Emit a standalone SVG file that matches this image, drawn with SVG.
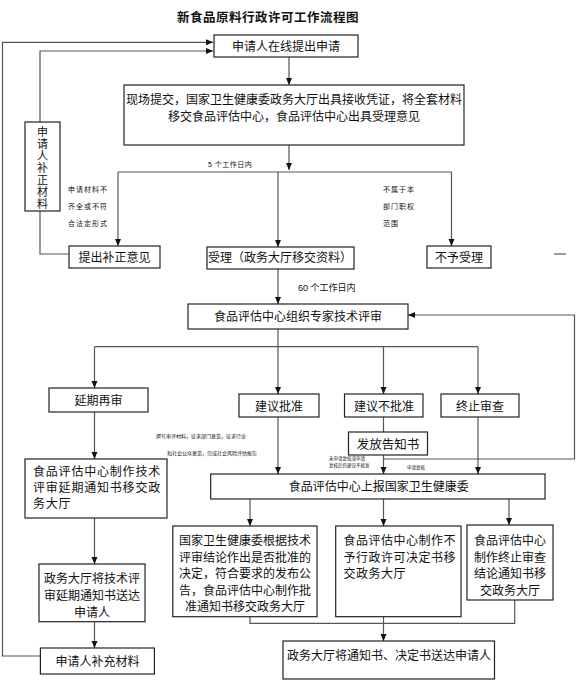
<svg xmlns="http://www.w3.org/2000/svg" width="576" height="682" viewBox="0 0 576 682">
<style>
text{font-family:"Liberation Sans","Noto Sans CJK SC",sans-serif;fill:#111}
.t{font-size:12px;text-anchor:middle}
.l{font-size:12px}
.v{font-size:11px;text-anchor:middle}
.s{font-size:7px;letter-spacing:1px}
.xs{font-size:5px}
.box{fill:#fff;stroke:#222;stroke-width:1.2}
.c{fill:none;stroke:#555;stroke-width:1.2}
</style>
<defs>
<marker id="a" markerUnits="userSpaceOnUse" markerWidth="7" markerHeight="7" refX="7" refY="3" orient="auto">
<path d="M0,0 L7,3 L0,6 z" fill="#111"/>
</marker>
</defs>
<rect width="576" height="682" fill="#fff"/>
<text x="268" y="22" style="font-size:12.5px;font-weight:bold;text-anchor:middle;letter-spacing:0.5px">新食品原料行政许可工作流程图</text>

<g id="connectors">
<polyline class="c" points="40.4,656 2.5,656 2.5,42.3 213,42.3" marker-end="url(#a)"/>
<polyline class="c" points="69,254 40,254 40,211"/>
<polyline class="c" points="40,122 40,51 213,51" marker-end="url(#a)"/>
<line class="c" x1="289" y1="57" x2="289" y2="85" marker-end="url(#a)"/>
<line class="c" x1="289" y1="145" x2="289" y2="170" marker-end="url(#a)"/>
<line class="c" x1="118" y1="172" x2="451.5" y2="172"/>
<line class="c" x1="118" y1="172" x2="118" y2="246" marker-end="url(#a)"/>
<line class="c" x1="278" y1="172" x2="278" y2="247" marker-end="url(#a)"/>
<line class="c" x1="451.5" y1="172" x2="451.5" y2="246" marker-end="url(#a)"/>
<line class="c" x1="554" y1="254" x2="566" y2="254"/>
<line class="c" x1="278" y1="269" x2="278" y2="304" marker-end="url(#a)"/>
<polyline class="c" points="383.5,459 574.5,459 574.5,315 408,315" marker-end="url(#a)"/>
<line class="c" x1="278" y1="329" x2="278" y2="346.7"/>
<line class="c" x1="94.5" y1="346.7" x2="478" y2="346.7"/>
<line class="c" x1="94.5" y1="346.7" x2="94.5" y2="388" marker-end="url(#a)"/>
<line class="c" x1="278" y1="346.7" x2="278" y2="394" marker-end="url(#a)"/>
<line class="c" x1="383.5" y1="346.7" x2="383.5" y2="394" marker-end="url(#a)"/>
<line class="c" x1="478" y1="346.7" x2="478" y2="394" marker-end="url(#a)"/>
<line class="c" x1="94.5" y1="412" x2="94.5" y2="459" marker-end="url(#a)"/>
<line class="c" x1="278" y1="417" x2="278" y2="474" marker-end="url(#a)"/>
<line class="c" x1="383.5" y1="417" x2="383.5" y2="432"/>
<line class="c" x1="383.5" y1="455" x2="383.5" y2="474" marker-end="url(#a)"/>
<line class="c" x1="478" y1="417" x2="478" y2="474" marker-end="url(#a)"/>
<line class="c" x1="250" y1="499" x2="250" y2="526" marker-end="url(#a)"/>
<line class="c" x1="383.5" y1="499" x2="383.5" y2="526" marker-end="url(#a)"/>
<line class="c" x1="509" y1="499" x2="509" y2="525" marker-end="url(#a)"/>
<polyline class="c" points="250,617 250,623.3 514.7,623.3 514.7,600"/>
<line class="c" x1="383.5" y1="602" x2="383.5" y2="641" marker-end="url(#a)"/>
<line class="c" x1="94.5" y1="518" x2="94.5" y2="564" marker-end="url(#a)"/>
<line class="c" x1="94.5" y1="621.7" x2="94.5" y2="648" marker-end="url(#a)"/>
</g>

<g id="labels">
<text class="s" x="208" y="167" style="letter-spacing:0.5px">5 个工作日内</text>
<text class="s" x="68" y="192">申请材料不</text>
<text class="s" x="68" y="209">齐全或不符</text>
<text class="s" x="68" y="226">合法定形式</text>
<text class="s" x="383" y="192">不属于本</text>
<text class="s" x="383" y="209">部门职权</text>
<text class="s" x="383" y="226">范围</text>
<text x="298" y="291" style="font-size:9px">60 个工作日内</text>
<text class="xs" x="156" y="437.5">撰写审评材料，征求部门意见，征求行业</text>
<text class="xs" x="167" y="454.5">和社会公众意见，完成社会风险评估报告</text>
<text class="xs" x="329" y="460" style="font-size:4.5px">未申请复核或申请</text>
<text class="xs" x="329" y="467" style="font-size:4.5px">复核后仍建议不批准</text>
<text class="xs" x="407" y="469" style="font-size:4.5px">申请复核</text>
</g>

<g id="n1"><rect class="box" x="214" y="35" width="144" height="22"/><text class="t" x="286" y="51">申请人在线提出申请</text></g>
<g id="n2"><rect class="box" x="124" y="85" width="340" height="60"/>
<text class="t" x="294" y="104">现场提交，国家卫生健康委政务大厅出具接收凭证，将全套材料</text>
<text class="t" x="294" y="121">移交食品评估中心，食品评估中心出具受理意见</text></g>
<g id="n3"><rect class="box" x="25" y="122" width="35" height="89"/>
<text class="v" x="42.5" y="136">申</text>
<text class="v" x="42.5" y="148">请</text>
<text class="v" x="42.5" y="160">人</text>
<text class="v" x="42.5" y="172">补</text>
<text class="v" x="42.5" y="184">正</text>
<text class="v" x="42.5" y="196">材</text>
<text class="v" x="42.5" y="208">料</text></g>
<g id="n4"><rect class="box" x="69" y="246" width="91" height="22"/><text class="t" x="114.5" y="261.5">提出补正意见</text></g>
<g id="n5"><rect class="box" x="207" y="247" width="147" height="22"/><text class="t" x="280" y="262">受理（政务大厅移交资料）</text></g>
<g id="n6"><rect class="box" x="427" y="246" width="64" height="22"/><text class="t" x="459" y="261.5">不予受理</text></g>
<g id="n7"><rect class="box" x="188" y="304" width="220" height="25"/><text class="t" x="298" y="321">食品评估中心组织专家技术评审</text></g>
<g id="n8"><rect class="box" x="49" y="388" width="99" height="24"/><text class="t" x="98.5" y="405">延期再审</text></g>
<g id="n9"><rect class="box" x="239" y="394" width="80" height="23"/><text class="t" x="279" y="410.5">建议批准</text></g>
<g id="n10"><rect class="box" x="344.5" y="394" width="78.5" height="23"/><text class="t" x="384" y="410.5">建议不批准</text></g>
<g id="n11"><rect class="box" x="441" y="394" width="78" height="23"/><text class="t" x="480" y="410.5">终止审查</text></g>
<g id="n12"><rect class="box" x="348.5" y="432" width="79" height="23"/><text class="t" x="388" y="448.5" style="font-size:12.5px">发放告知书</text></g>
<g id="n13"><rect class="box" x="25" y="459" width="142" height="59"/>
<text class="l" x="33" y="476" style="letter-spacing:0.8px">食品评估中心制作技术</text>
<text class="l" x="33" y="492" style="letter-spacing:0.8px">评审延期通知书移交政</text>
<text class="l" x="33" y="508" style="letter-spacing:0.8px">务大厅</text></g>
<g id="n14"><rect class="box" x="210.7" y="474" width="334.3" height="25"/><text class="t" x="378.7" y="491">食品评估中心上报国家卫生健康委</text></g>
<g id="n15"><rect class="box" x="172.8" y="526" width="144.2" height="90.7"/>
<text class="t" x="245" y="545">国家卫生健康委根据技术</text>
<text class="t" x="245" y="561.5">评审结论作出是否批准的</text>
<text class="t" x="245" y="578">决定，符合要求的发布公</text>
<text class="t" x="245" y="594.5">告，食品评估中心制作批</text>
<text class="t" x="245" y="611">准通知书移交政务大厅</text></g>
<g id="n16"><rect class="box" x="335.7" y="526" width="125.3" height="90.7"/>
<text class="l" x="343.5" y="545" style="letter-spacing:0.5px">食品评估中心制作不</text>
<text class="l" x="343.5" y="561.5" style="letter-spacing:0.5px">予行政许可决定书移</text>
<text class="l" x="343.5" y="578" style="letter-spacing:0.5px">交政务大厅</text></g>
<g id="n17"><rect class="box" x="467" y="525" width="86" height="75"/>
<text class="t" x="510" y="545">食品评估中心</text>
<text class="t" x="510" y="561.5">制作终止审查</text>
<text class="t" x="510" y="578">结论通知书移</text>
<text class="t" x="510" y="594.5">交政务大厅</text></g>
<g id="n18"><rect class="box" x="39" y="564" width="106" height="57.7"/>
<text class="t" x="92" y="583">政务大厅将技术评</text>
<text class="t" x="92" y="600">审延期通知书送达</text>
<text class="t" x="92" y="617">申请人</text></g>
<g id="n19"><rect class="box" x="40.4" y="648" width="114" height="26"/><text class="t" x="97.4" y="666">申请人补充材料</text></g>
<g id="n20"><rect class="box" x="283" y="641" width="211.5" height="38"/><text class="t" x="389" y="660">政务大厅将通知书、决定书送达申请人</text></g>
</svg>
